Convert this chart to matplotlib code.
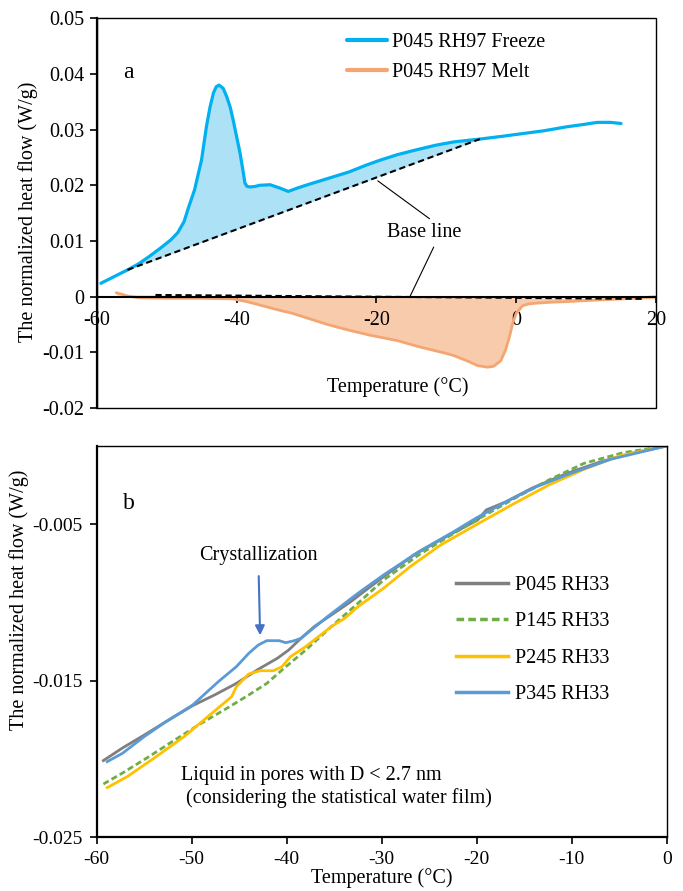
import numpy as np
import matplotlib
matplotlib.use('Agg')
import matplotlib.pyplot as plt
from matplotlib.patches import Rectangle

plt.rcParams['font.family'] = ['Liberation Serif', 'DejaVu Serif']
plt.rcParams['axes.unicode_minus'] = False

# panel a - freeze / melt curves of P045 RH97
freezeT = [-59.4, -57.5, -55.6, -54.0, -52.5, -51.0, -49.4, -48.4, -47.5, -46.9, -46.0, -45.0, -44.3,
           -43.8, -43.3, -42.9, -42.5, -41.9, -41.4, -40.9, -40.5, -40.0, -39.5, -39.1, -38.8, -38.5,
           -38.1, -37.3, -36.7, -35.2, -33.8, -32.6, -31.3, -30.1, -27.0, -23.9, -21.5, -19.5,
           -17.0, -14.5, -11.5, -8.9, -5.2, -2.0, 1.0, 4.0, 7.2, 9.5, 11.6, 13.5, 15.0]
freezeV = [0.0024, 0.0036, 0.0048, 0.0059, 0.0072, 0.0086, 0.0102, 0.0115, 0.0135, 0.0159, 0.0192, 0.0246, 0.0306,
           0.0340, 0.0366, 0.0377, 0.0380, 0.0374, 0.0359, 0.0340, 0.0318, 0.0288, 0.0258, 0.0228, 0.0204, 0.0198,
           0.0197, 0.0198, 0.0200, 0.0201, 0.0195, 0.0189, 0.0195, 0.0200, 0.0212, 0.0224, 0.0236, 0.0245,
           0.0255, 0.0263, 0.0272, 0.0278, 0.0283, 0.0288, 0.0293, 0.0298, 0.0305, 0.0309, 0.0313, 0.0313, 0.0311]
freezeBaseT = [-55.6, -5.2]
freezeBaseV = [0.0048, 0.0283]

meltT = [-57.2, -55.5, -54, -50, -45, -40.5, -38.5, -36.7, -34, -32, -29, -27, -24, -21, -17,
         -13.9, -10, -8.9, -6.7, -5.5, -4.1, -3.2, -2.2, -1.5, -0.96, -0.5, 0, 0.9, 1.8, 2.9,
         5, 7.6, 10, 13.5, 17, 20]
meltV = [0.0007, 0.0001, -0.0002, -0.0003, -0.0003, -0.0004, -0.0009, -0.0015, -0.0024, -0.0030,
         -0.0042, -0.0050, -0.0060, -0.0069, -0.0079, -0.0090, -0.0102, -0.0106, -0.0117, -0.0124,
         -0.01267, -0.0125, -0.0115, -0.0095, -0.0072, -0.0048, -0.0030, -0.00165, -0.0013, -0.00117,
         -0.0010, -0.00088, -0.0007, -0.0005, -0.0003, 0.0]
meltBaseT = [-51.6, 18.0]
meltBaseV = [0.0003, -0.0004]

aXticks = [-60, -40, -20, 0, 20]
aYticks = [0.05, 0.04, 0.03, 0.02, 0.01, 0, -0.01, -0.02]
aYlabels = ['0.05', '0.04', '0.03', '0.02', '0.01', '0', '-0.01', '-0.02']

# panel b - RH33 samples
p045T = [-59.3, -57.3, -55.0, -52.7, -49.9, -47.6, -45.3, -43.0, -41.0, -39.8, -38.5, -37.1, -33.4,
         -29.8, -26.6, -22.9, -19.9, -19.0, -16.9, -14.2, -10.5, -6.9, -3.7, 0]
p045V = [-0.0201, -0.0193, -0.01847, -0.01761, -0.01659, -0.01591, -0.01517, -0.01427, -0.01357,
         -0.01304, -0.01229, -0.01154, -0.01001, -0.00835, -0.00696, -0.00569, -0.00473, -0.00409,
         -0.00356, -0.0027, -0.00175, -0.001, -0.00047, 0]
p145T = [-59.3, -57.3, -54.5, -51.8, -49.0, -46.3, -44.0, -42.1, -40.3, -38.0, -35.3, -32.5, -29.8,
         -26.1, -22.4, -19.7, -16.0, -12.4, -8.7, -4.6, 0]
p145V = [-0.0216, -0.0209, -0.01985, -0.01879, -0.01772, -0.01676, -0.01591, -0.01517, -0.01421,
         -0.01304, -0.01154, -0.01005, -0.00856, -0.00696, -0.00558, -0.00462, -0.00334, -0.00217,
         -0.00111, -0.00043, 0]
p245T = [-58.9, -56.8, -54.0, -50.8, -48.1, -45.8, -45.3, -44.0, -42.8, -41.4, -40.5, -39.6, -38.0,
         -35.3, -33.9, -32.5, -29.8, -27.0, -23.8, -20.1, -16.0, -12.4, -8.7, -5.0, 0]
p245V = [-0.02183, -0.02113, -0.01996, -0.01857, -0.01719, -0.01602, -0.01538, -0.01457, -0.01436,
         -0.01436, -0.0141, -0.01346, -0.01282, -0.01154, -0.01101, -0.01027, -0.00909, -0.00771,
         -0.00633, -0.00505, -0.00366, -0.00249, -0.00149, -0.00064, 0]
p345T = [-58.9, -57.3, -55.0, -52.7, -49.9, -47.2, -45.3, -44.0, -43.0, -42.1, -40.8, -40.1, -39.2,
         -38.5, -35.7, -32.5, -29.8, -26.1, -22.4, -20.1, -16.9, -13.7, -10.1, -5.9, 0]
p345V = [-0.02017, -0.01964, -0.01857, -0.01761, -0.01655, -0.01506, -0.0141, -0.01325, -0.01272,
         -0.01244, -0.01244, -0.01257, -0.01244, -0.01229, -0.0109, -0.00941, -0.00824, -0.00675,
         -0.00547, -0.00462, -0.00356, -0.0026, -0.00175, -0.00085, 0]

bXticks = [-60, -50, -40, -30, -20, -10, 0]
bYticks = [-0.025, -0.015, -0.005]
bYlabels = ['-0.025', '-0.015', '-0.005']

fig = plt.figure(figsize=(6.83, 8.91), dpi=100)

# ---------- a ----------
ax = fig.add_axes([0.1416, 0.5421, 0.8189, 0.4374])
fT = np.array(freezeT)
fV = np.array(freezeV)
m = (fT >= freezeBaseT[0]) & (fT <= freezeBaseT[1])
ax.fill_between(fT[m], fV[m], np.interp(fT[m], freezeBaseT, freezeBaseV), color='#ADE1F6', lw=0)
mT = np.array(meltT)
mV = np.array(meltV)
ax.fill_between(mT, mV, np.interp(mT, meltBaseT, meltBaseV), color='#F8CBAD', lw=0)

ax.plot(freezeT, freezeV, color='#00B0F0', lw=2.3, label='P045 RH97 Freeze', solid_capstyle='round')
ax.plot(meltT, meltV, color='#F4A672', lw=2.0, label='P045 RH97 Melt', solid_capstyle='round')
ax.plot(freezeBaseT, freezeBaseV, color='black', lw=1.5, ls=(0, (3, 1.8)))
ax.plot(meltBaseT, meltBaseV, color='black', lw=1.5, ls=(0, (3, 1.8)))

ax.set_xlim(-60, 20)
ax.set_ylim(-0.02, 0.05)
ax.spines['bottom'].set_position(('data', 0))
for s in ['top', 'right']:
    ax.spines[s].set_visible(False)
ax.spines['left'].set_linewidth(1.6)
ax.spines['bottom'].set_linewidth(1.5)
ax.add_patch(Rectangle((0, 0), 1, 1, transform=ax.transAxes, fill=False, lw=1.0, ec='black', clip_on=False))
ax.set_xticks(aXticks)
ax.set_yticks(aYticks)
ax.set_yticklabels(aYlabels)
ax.tick_params(axis='both', direction='out', length=5, width=1.2, labelsize=14.5, pad=4)
ax.tick_params(axis='x', length=4, pad=6)
ax.set_ylabel('The normalized heat flow (W/g)', fontsize=14.5)
ax.yaxis.set_label_coords(-0.105, 0.504)
ax.text(-16.9, -0.0163, 'Temperature (°C)', fontsize=14.5, ha='center', va='center')
ax.text(-55.5, 0.0402, 'a', fontsize=17, ha='center', va='center')
ax.text(-13.2, 0.0116, 'Base line', fontsize=14.5, ha='center', va='center')
ax.annotate('', xy=(-19.8, 0.0208), xytext=(-12.4, 0.0140),
            arrowprops=dict(arrowstyle='-', lw=0.8, color='black', shrinkA=0, shrinkB=0))
ax.annotate('', xy=(-15.2, 0.0), xytext=(-11.8, 0.0089),
            arrowprops=dict(arrowstyle='-', lw=0.8, color='black', shrinkA=0, shrinkB=0))
leg = ax.legend(loc='center left', bbox_to_anchor=(0.4475, 0.900), frameon=False, fontsize=14.5,
                handlelength=2.0, handletextpad=0.25, labelspacing=0.55, borderpad=0, borderaxespad=0)
for ln in leg.get_lines():
    ln.set_linewidth(3)

# ---------- b ----------
bx = fig.add_axes([0.1416, 0.0603, 0.8346, 0.4392])
bx.plot(p045T, p045V, color='#7F7F7F', lw=2.0, label='P045 RH33')
bx.plot(p145T, p145V, color='#70AD47', lw=2.0, ls=(0, (2.2, 1.2)), label='P145 RH33')
bx.plot(p245T, p245V, color='#FFC000', lw=2.0, label='P245 RH33')
bx.plot(p345T, p345V, color='#5B9BD5', lw=2.0, label='P345 RH33')

bx.set_xlim(-60, 0)
bx.set_ylim(-0.025, 0)
bx.set_xticks(bXticks)
bx.set_yticks(bYticks)
bx.set_yticklabels(bYlabels)
bx.spines['left'].set_linewidth(1.6)
bx.spines['bottom'].set_linewidth(1.6)
bx.spines['top'].set_linewidth(1.0)
bx.spines['right'].set_linewidth(1.0)
bx.tick_params(axis='both', direction='out', length=5, width=1.2, labelsize=14, pad=5)
bx.set_xlabel('Temperature (°C)', fontsize=14.5, labelpad=0)
bx.set_ylabel('The normalized heat flow (W/g)', fontsize=14.5)
bx.yaxis.set_label_coords(-0.118, 0.606)
bx.text(-56.6, -0.0037, 'b', fontsize=17, ha='center', va='center')
bx.text(-51.1, -0.0218, 'Liquid in pores with D < 2.7 nm\n (considering the statistical water film)',
        fontsize=14.5, ha='left', va='center', linespacing=1.25)
bx.annotate('Crystallization', xy=(-42.8, -0.0121), xytext=(-43.0, -0.0070),
            fontsize=14.5, ha='center', va='center',
            arrowprops=dict(arrowstyle='-|>', color='#4472C4', lw=1.5, mutation_scale=14, shrinkA=6, shrinkB=0))
leg2 = bx.legend(loc='center left', bbox_to_anchor=(0.63, 0.504), frameon=False, fontsize=14.5,
                 handlelength=2.6, handletextpad=0.35, labelspacing=0.85, borderpad=0, borderaxespad=0)
for ln in leg2.get_lines():
    ln.set_linewidth(2.5)

fig.savefig('out.png', dpi=100)
